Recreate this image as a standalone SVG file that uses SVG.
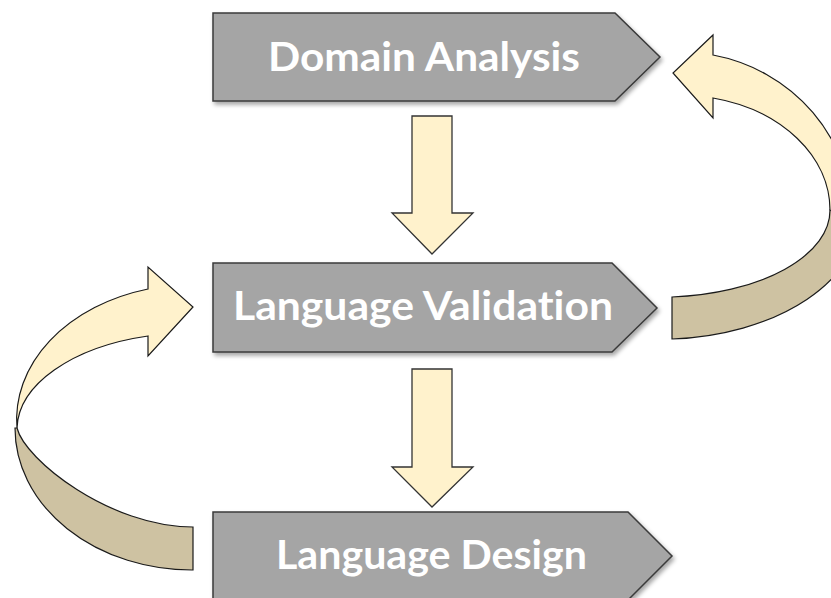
<svg xmlns="http://www.w3.org/2000/svg" width="831" height="598" viewBox="0 0 831 598">
  <defs>
    <filter id="shadow" x="-10%" y="-10%" width="130%" height="140%">
      <feDropShadow dx="2" dy="3" stdDeviation="2" flood-color="#000" flood-opacity="0.35"/>
    </filter>
  </defs>
  <style>
    .node { fill: #a5a5a5; stroke: #3a3a3a; stroke-width: 1.5; }
    .label { font-family: Lato, "Liberation Sans", Arial, sans-serif; font-weight: bold; font-size: 40px; fill: #ffffff; font-variant-ligatures: none; font-feature-settings: "liga" 0, "clig" 0, "dlig" 0; }
    .front { fill: #fff2cc; stroke: #1a1a1a; stroke-width: 1.2; stroke-linejoin: miter; }
    .back { fill: #cec2a2; stroke: #1a1a1a; stroke-width: 1.2; }
    .down { fill: #fff2cc; stroke: #333333; stroke-width: 1.3; }
  </style>
  <rect width="831" height="598" fill="#ffffff"/>

  <g id="node-domain-analysis">
    <polygon class="node" filter="url(#shadow)" points="213,13 615,13 660,57 615,101 213,101"/>
    <text class="label" x="268" y="71" textLength="312" lengthAdjust="spacingAndGlyphs">Domain Analysis</text>
  </g>

  <g id="node-language-validation">
    <polygon class="node" filter="url(#shadow)" points="213,263 612,263 657,308 612,352 213,352"/>
    <text class="label" x="233" y="320" textLength="380" lengthAdjust="spacingAndGlyphs">Language Validation</text>
  </g>

  <g id="node-language-design">
    <polygon class="node" filter="url(#shadow)" points="213,512 628,512 672,556 628,600 213,600"/>
    <text class="label" x="276" y="569" textLength="311" lengthAdjust="spacingAndGlyphs">Language Design</text>
  </g>

  <g id="connectors">
    <!-- straight down arrows -->
    <polygon class="down" points="412,116 452,116 452,213 473,213 432,254 392,213 412,213"/>
    <polygon class="down" points="412,369 452,369 452,467 473,467 432,507 392,467 412,467"/>

    <!-- left curved arrow: Language Design -> Language Validation -->
    <path class="back" d="M17,428 C25,460 110,527 193,527 L193,570 A177,142 0 0 1 15,428 Z"/>
    <path class="front" d="M148,289 L148,267 L193,307 L148,356 L148,336 A175,97 0 0 0 17,428 A177,135 0 0 1 148,289 Z"/>

    <!-- right curved arrow: Language Validation -> Domain Analysis -->
    <path class="back" d="M830,210 A170,87 0 0 1 672,297 L672,339 A200,124 0 0 0 860,213 L830,210 Z"/>
    <path class="front" d="M713,55 L713,35 L673,73 L713,118 L713,98 A150,115 0 0 1 830,210 L852,224 L852,218 A172,166 0 0 0 713,55 Z"/>
  </g>
</svg>
